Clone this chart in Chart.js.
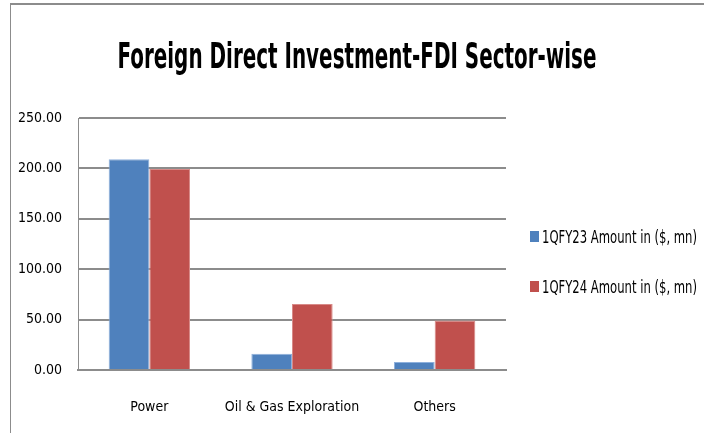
<!DOCTYPE html>
<html>
<head>
<meta charset="utf-8">
<script src="https://cdn.jsdelivr.net/npm/chart.js@4.4.1/dist/chart.umd.min.js"></script>
<style>
  html, body { margin: 0; padding: 0; background: #fff; }
  #frame {
    position: absolute; left: 10px; top: 3px; width: 694px; height: 430px;
    border-top: 2px solid #8c8c8c; border-left: 1px solid #8c8c8c;
  }
  #wrap { position: absolute; left: 0; top: 0; width: 704px; height: 433px; }
</style>
</head>
<body>
<div id="frame"></div>
<div id="wrap"><canvas id="fdi-chart" width="704" height="433"></canvas></div>
<script>
// 섹터별 FDI 데이터 ($, mn)
const sectors = ['Power', 'Oil & Gas Exploration', 'Others'];
const fy23Amounts = [209, 16, 8];
const fy24Amounts = [199.5, 65.5, 49];
const seriesLabels = ['1QFY23 Amount in ($, mn)', '1QFY24 Amount in ($, mn)'];
const seriesColors = ['#4f81bd', '#c0504d'];
const yTicks = [0, 50, 100, 150, 200, 250];
const chartTitle = 'Foreign Direct Investment-FDI Sector-wise';

const FONT = '"DejaVu Sans Condensed", "DejaVu Sans", sans-serif';
const GRID = '#8c8c8c';

// 좁은 글꼴 느낌을 위해 가로로 눌러서 그리기
function drawSquashedText(c, text, x, y, font, scaleX, align) {
    c.save();
    c.font = font;
    c.fillStyle = '#000';
    c.textBaseline = 'alphabetic';
    c.textAlign = align;
    c.translate(x, y);
    c.scale(scaleX, 1);
    c.fillText(text, 0, 0);
    c.restore();
}

// 제목과 범례는 직접 그림
const decorPlugin = {
    id: 'excelDecor',
    afterDraw(chart) {
        const c = chart.ctx;
        drawSquashedText(c, chartTitle, 357, 68, 'bold 35px ' + FONT, 0.633, 'center');

        const legendY = [237, 287];
        chart.data.datasets.forEach((ds, i) => {
            const cy = legendY[i];
            c.fillStyle = ds.backgroundColor;
            c.fillRect(530, cy - 6, 9, 11);
            drawSquashedText(c, ds.label, 542, cy + 6, '17px ' + FONT, 0.76, 'left');
        });
    }
};

const ctx = document.getElementById('fdi-chart').getContext('2d');

new Chart(ctx, {
    type: 'bar',
    data: {
        labels: sectors,
        datasets: [{
            label: seriesLabels[0],
            data: fy23Amounts,
            backgroundColor: seriesColors[0],
            borderColor: '#8eb0dc',
            borderWidth: { top: 1, left: 1, right: 1, bottom: 0 }
        }, {
            label: seriesLabels[1],
            data: fy24Amounts,
            backgroundColor: seriesColors[1],
            borderColor: '#d88a88',
            borderWidth: { top: 1, left: 1, right: 1, bottom: 0 }
        }]
    },
    plugins: [decorPlugin],
    options: {
        responsive: false,
        animation: false,
        layout: { padding: { left: 0, right: 198, top: 118, bottom: 0 } },
        datasets: {
            bar: { categoryPercentage: 0.57, barPercentage: 1.0 }
        },
        plugins: {
            title: { display: false },
            legend: { display: false },
            tooltip: { enabled: false }
        },
        scales: {
            x: {
                afterFit: (scale) => { scale.height = 63; },
                grid: { display: false, drawTicks: false },
                border: { color: GRID, width: 2 },
                ticks: {
                    color: '#000',
                    font: { family: FONT, size: 14 },
                    padding: 29,
                    maxRotation: 0,
                    autoSkip: false
                }
            },
            y: {
                min: 0,
                max: 250,
                afterFit: (scale) => { scale.width = 78; },
                afterBuildTicks: (scale) => { scale.ticks = yTicks.map(v => ({ value: v })); },
                grid: { color: GRID, lineWidth: 2, drawTicks: false },
                border: { color: GRID, width: 1 },
                ticks: {
                    color: '#000',
                    font: { family: FONT, size: 14 },
                    padding: 16,
                    callback: (v) => Number(v).toFixed(2)
                }
            }
        }
    }
});
</script>
</body>
</html>
